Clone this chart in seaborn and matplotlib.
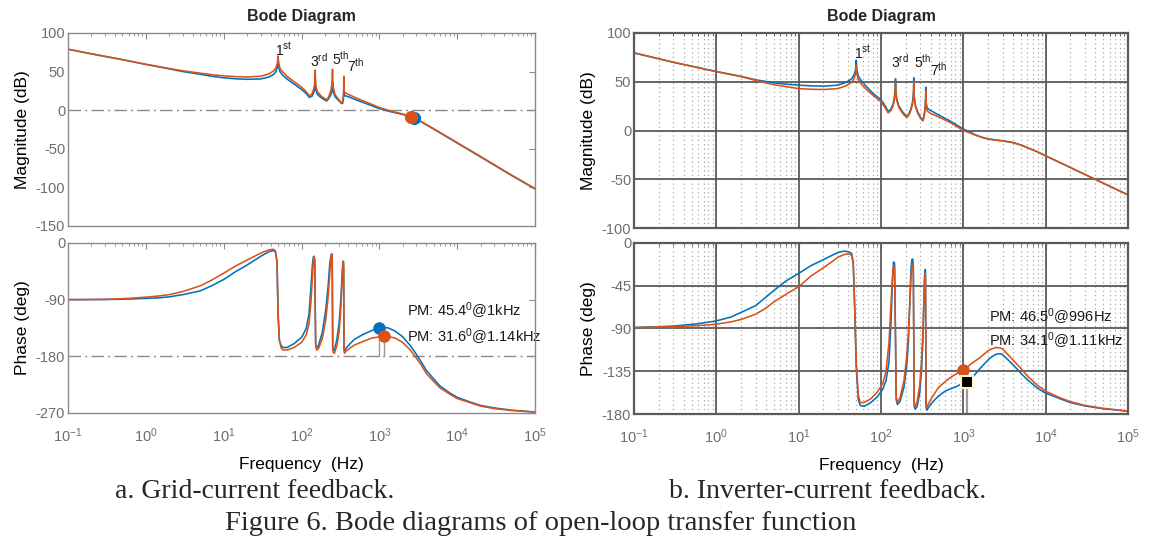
import numpy as np
import matplotlib
matplotlib.use("Agg")
import matplotlib.pyplot as plt
import seaborn as sns
from matplotlib.ticker import LogLocator

sns.set_style("white")
plt.rcParams['font.family'] = ['Liberation Sans', 'DejaVu Sans']
plt.rcParams['mathtext.fontset'] = 'custom'
plt.rcParams['mathtext.rm'] = 'Liberation Sans'
plt.rcParams['mathtext.it'] = 'Liberation Sans:italic'
plt.rcParams['mathtext.default'] = 'regular'
plt.rcParams['axes.unicode_minus'] = False

BLUE = '#0072BD'
ORANGE = '#D95319'

# ---------------- (a) grid-current feedback ----------------
LM_FREQ = [0.1, 0.2, 0.5, 1, 2, 3, 5, 7, 10, 14, 20, 30, 38,
           44, 47, 49, 50, 51, 53, 57, 65, 80, 100,
           115, 126, 136, 143, 147, 149.3, 150, 150.7, 153, 160,
           180, 200, 211, 225, 238, 245, 248.5, 250, 251.5, 255,
           270, 300, 325, 336, 344, 348, 350, 352, 356, 370,
           400, 500, 700, 1000, 1400, 2000, 2600, 3000, 3500, 5000,
           1e4, 2e4, 5e4, 1e5]
LM_ORANGE = [79, 73, 65.5, 59.5, 54, 51, 48, 46, 44.5, 43.5, 43, 44, 47,
             51, 55, 61, 70, 61, 54, 50, 44, 37, 30,
             24, 18.5, 21, 27, 33, 42, 52, 42, 31, 24,
             18, 15, 13.5, 18, 25, 33, 42, 53, 42, 30,
             20, 14, 10, 9.5, 18, 27, 44, 27, 23.5, 22,
             20.5, 16, 10, 3.5, -1, -5, -8.5, -11, -15, -24,
             -42, -60, -84, -101.5]
LM_BLUE = [79, 73, 65.5, 59.3, 53.5, 50, 46.5, 44, 42, 40.7, 40, 40.5, 43,
           46.5, 50, 56, 64, 56, 50, 45.5, 40.5, 34, 27,
           21.5, 16.5, 18, 22, 27, 34, 41, 34, 26, 20.5,
           16, 13, 12, 15.5, 20, 25, 31, 37, 31, 24,
           17.5, 12.5, 9, 8.5, 13, 18, 27, 19, 19, 18.5,
           17.5, 13.5, 8, 2, -2, -5.5, -9, -11.5, -15.5, -24.5,
           -42.5, -60.5, -84.5, -102]

LP_FREQ = [0.1, 0.3, 0.6, 1, 1.5, 2, 3, 5, 7, 10, 14, 20, 30, 38, 43,
           46, 48.5, 50, 52, 55, 58, 65, 80, 100, 115,
           125, 132, 138, 142, 145, 148, 150, 152, 156, 165,
           185, 205, 220, 232, 240, 245, 248, 250, 252, 256,
           265, 285, 305, 320, 332, 340, 345, 348, 350, 352,
           356, 380, 420, 480, 600, 800, 1000, 1140, 1300, 1600, 2000,
           2500, 3000, 3500, 4000, 5000, 6000, 8000, 1e4, 1.5e4, 2e4, 3e4, 5e4, 1e5]
LP_ORANGE = [-90, -89.5, -88, -86, -84, -82, -77, -68, -59, -48, -37, -27, -16, -11, -10,
             -12, -30, -110, -155, -167, -170, -170, -166, -158, -146,
             -128, -95, -55, -30, -22, -25, -100, -160, -170, -168,
             -152, -122, -85, -45, -22, -17, -25, -100, -168, -174,
             -175, -163, -140, -105, -65, -35, -29, -40, -100, -170,
             -175, -171, -167, -162, -157, -151, -149, -148.4, -148.6, -151, -158,
             -170, -183, -195, -207, -220, -230, -240, -247, -254, -259, -263, -266, -268.5]
LP_BLUE = [-90, -89.8, -89, -88, -87, -85.5, -82, -76, -68, -58, -46, -35, -21, -14, -12,
           -13, -30, -115, -155, -163, -166, -166, -160, -150, -136,
           -112, -72, -35, -22, -21, -28, -100, -160, -167, -163,
           -142, -106, -68, -30, -19, -18, -25, -100, -165, -171,
           -170, -153, -126, -90, -50, -32, -29, -38, -100, -168,
           -172, -166, -160, -153, -146, -139, -134.6, -134, -135, -140, -149,
           -163, -177, -190, -202, -216, -227, -238, -245, -253, -258, -262, -265.5, -268.5]

# ---------------- (b) inverter-current feedback ----------------
RM_FREQ = [0.1, 0.3, 1, 2, 3, 5, 7, 10, 14, 20, 30, 38,
           44, 47, 49, 50, 51, 53, 57, 65, 80, 100,
           113, 122, 132, 140, 145, 148.5, 150, 151.5, 155, 165,
           185, 205, 215, 228, 240, 246, 249, 250, 251, 254,
           262, 280, 300, 315, 325, 337, 345, 349, 350, 351,
           354, 365, 400, 500, 700, 1000, 1200, 1400, 1700, 2000, 2500, 3000, 4000, 5000, 6000, 8000,
           1e4, 2e4, 5e4, 1e5]
RM_BLUE = [79.6, 70, 60.5, 55.5, 52, 49, 47.5, 46.5, 45.8, 45.5, 46.5, 49.5,
           53, 57, 62, 72, 62, 56, 51.5, 46, 38, 31.5,
           25, 19.5, 22, 27, 33, 42, 53, 42, 33, 25,
           18.5, 14.5, 16, 21, 28, 35, 43, 54, 43, 34,
           26, 19, 14, 11.5, 11, 18, 27, 35, 44.5, 35,
           28, 23, 20.5, 16, 9.5, 1.5, -1.5, -4.5, -7, -8.5, -9.8, -10.5, -12.3, -14.8, -17.5, -22,
           -26, -38, -54, -66]
RM_ORANGE = [79.6, 70, 60.3, 55.3, 51.3, 47, 45, 43, 42.3, 42, 43, 46,
             49.5, 53, 58, 67, 58, 52, 48, 43, 36, 29.5,
             23, 18, 20.5, 25, 31, 39, 49.5, 39, 31, 23.5,
             17, 13.5, 15, 19.5, 26, 32, 40, 50, 40, 32,
             24.5, 17.5, 13, 10.5, 10, 16, 24, 32, 41, 32,
             25, 20, 17.5, 14, 8, 0, -2.5, -4.8, -7.2, -8.8, -10, -10.7, -12.5, -15, -17.7, -22,
             -26, -38, -54, -66]

RP_FREQ = [0.1, 0.3, 0.6, 1, 1.5, 2, 3, 4, 5, 7, 10, 14, 20, 26, 30, 36,
           41, 44, 46, 48, 50, 53, 56, 62, 75, 90,
           105, 115, 125, 132, 138, 142, 146, 150, 153, 158,
           170, 190, 205, 215, 225, 232, 238, 243, 247, 250,
           253, 260, 275, 295, 310, 322, 332, 338, 343, 347,
           350, 353, 360, 400, 450, 500, 600, 700, 850, 996, 1110, 1250, 1400, 1600, 2000,
           2200, 2500, 2800, 3000, 4000, 5000, 6000, 8000, 1e4, 1.5e4, 2e4, 3e4, 5e4, 1e5]
RP_ORANGE = [-89, -88, -87, -85.5, -83, -80.5, -75, -68.5, -62, -54, -46, -35, -26, -19, -15, -12,
             -11.5, -13, -22, -70, -125, -160, -168, -168, -164, -157,
             -148, -135, -105, -65, -35, -24, -25, -100, -162, -168,
             -163, -145, -120, -95, -60, -35, -23, -22, -30, -100,
             -168, -172, -167, -150, -125, -95, -60, -40, -32, -35,
             -100, -170, -173, -165, -158, -152, -146, -141.5, -137, -133.5, -131, -127, -124, -120.5, -113.5,
             -111.5, -110, -110.5, -111.5, -123, -132, -140, -150, -156, -163, -167, -171, -174, -177]
RP_BLUE = [-89, -87.5, -85, -82, -78, -73, -66, -57, -50, -40, -32, -24, -17.5, -12.5, -10, -8.5,
           -9.5, -11, -20, -70, -130, -165, -171, -172, -168, -162,
           -154, -145, -125, -85, -40, -20, -21, -100, -165, -170,
           -167, -152, -130, -105, -55, -25, -17, -17, -25, -100,
           -172, -175, -172, -158, -135, -105, -60, -35, -28, -30,
           -100, -173, -176, -170, -165, -161, -156, -153.5, -150.5, -147.5, -145.9, -142, -138, -132, -123,
           -120, -117, -116.5, -117.5, -128, -137, -144, -153, -158, -164, -168, -171.5, -174.5, -177]

for fr, *ys in [(LM_FREQ, LM_ORANGE, LM_BLUE), (LP_FREQ, LP_ORANGE, LP_BLUE),
                (RM_FREQ, RM_ORANGE, RM_BLUE), (RP_FREQ, RP_ORANGE, RP_BLUE)]:
    for y in ys:
        assert len(y) == len(fr), (len(fr), len(y))

HARMONIC_LABELS = ['1$^{st}$', '3$^{rd}$', '5$^{th}$', '7$^{th}$']
A_LABEL_POS = [(45, 67), (128, 53), (244, 55), (381, 46)]
B_LABEL_POS = [(47, 71), (131, 61), (255, 61), (390, 53)]

A_MAG_MARK = [(2780, -10.2, BLUE), (2550, -8.2, ORANGE)]
A_PM = [(1000, -134.6, BLUE, 'PM: 45.4$^0$@1kHz', -107.5),
        (1140, -148.4, ORANGE, 'PM: 31.6$^0$@1.14kHz', -148.8)]
B_PM_TEXT = [('PM: 46.5$^0$@996Hz', -77.6), ('PM: 34.1$^0$@1.11kHz', -102.8)]
B_PM_ORANGE = (996, -133.5)
B_PM_BLUE = (1110, -145.9)

W, H = 1149, 549
fig = plt.figure(figsize=(W / 100, H / 100), dpi=100)


def px_axes(x0, x1, y0, y1):
    return fig.add_axes([x0 / W, 1 - y1 / H, (x1 - x0) / W, (y1 - y0) / H])


def style(ax, grid, yticks, ylim):
    ax.set_xscale('log')
    ax.set_xlim(0.1, 1e5)
    ax.set_ylim(*ylim)
    ax.set_yticks(yticks)
    ax.xaxis.set_major_locator(LogLocator(base=10, numticks=12))
    ax.xaxis.set_minor_locator(LogLocator(base=10, subs=np.arange(2, 10), numticks=100))
    sc = '#5a5a5a' if grid else '#8a8a8a'
    ax.tick_params(which='both', direction='in', top=True, right=True, color=sc)
    ax.tick_params(which='major', length=4, labelsize=10.5, labelcolor='#6e6e6e', pad=2)
    ax.tick_params(axis='x', which='major', pad=10)
    ax.tick_params(which='minor', length=2.3)
    for s in ax.spines.values():
        s.set_color(sc)
        s.set_linewidth(1.6 if grid else 1.0)
        s.set_zorder(5)
    if grid:
        ax.grid(which='major', color='#5a5a5a', lw=1.3, ls='-')
        ax.grid(which='minor', axis='x', color='#a8a8a8', lw=0.9, ls=(0, (1, 2.5)))
        ax.set_axisbelow(True)


def curves(ax, f, b, o):
    sns.lineplot(x=f, y=b, ax=ax, color=BLUE, lw=1.15, estimator=None, sort=False, zorder=3)
    sns.lineplot(x=f, y=o, ax=ax, color=ORANGE, lw=1.15, estimator=None, sort=False, zorder=3)


DASHDOT = (0, (9, 3, 1.5, 3))

# ---- (a) magnitude ----
ax1 = px_axes(68, 535, 33, 226)
style(ax1, False, [-150, -100, -50, 0, 50, 100], (-150, 100))
ax1.axhline(0, color='#8a8a8a', lw=1.0, ls=DASHDOT, zorder=2)
curves(ax1, LM_FREQ, LM_BLUE, LM_ORANGE)
for fx, mv, c in A_MAG_MARK:
    ax1.plot([fx], [mv], 'o', ms=8.5, color=c, zorder=4)
for (fx, dv), lab in zip(A_LABEL_POS, HARMONIC_LABELS):
    ax1.text(fx, dv, lab, fontsize=10, ha='left', va='bottom', color='#1a1a1a')
ax1.tick_params(labelbottom=False)
ax1.set_ylabel('Magnitude (dB)', fontsize=12.5, color='black', labelpad=4)
ax1.set_title('Bode Diagram', fontweight='bold', fontsize=11.5, pad=9)

# ---- (a) phase ----
ax2 = px_axes(68, 535, 243, 413)
style(ax2, False, [-270, -180, -90, 0], (-270, 0))
ax2.axhline(-180, color='#8a8a8a', lw=1.0, ls=DASHDOT, zorder=2)
curves(ax2, LP_FREQ, LP_BLUE, LP_ORANGE)
for fx, pv, c, txt, ty in A_PM:
    ax2.plot([fx, fx], [pv, -180], color='#9a9a9a', lw=1.0, zorder=3)
    ax2.plot([fx], [pv], 'o', ms=8, color=c, zorder=4)
    ax2.text(2250, ty, txt, fontsize=10.5, ha='left', va='center', color='#1a1a1a')
ax2.set_ylabel('Phase (deg)', fontsize=12.5, color='black', labelpad=4)
ax2.set_xlabel('Frequency  (Hz)', fontsize=12.5, color='black', labelpad=8)

# ---- (b) magnitude ----
ax3 = px_axes(634, 1128, 33, 228)
style(ax3, True, [-100, -50, 0, 50, 100], (-100, 100))
curves(ax3, RM_FREQ, RM_BLUE, RM_ORANGE)
for (fx, dv), lab in zip(B_LABEL_POS, HARMONIC_LABELS):
    ax3.text(fx, dv, lab, fontsize=10, ha='left', va='bottom', color='#1a1a1a')
ax3.tick_params(labelbottom=False)
ax3.set_ylabel('Magnitude (dB)', fontsize=12.5, color='black', labelpad=4)
ax3.set_title('Bode Diagram', fontweight='bold', fontsize=11.5, pad=9)

# ---- (b) phase ----
ax4 = px_axes(634, 1128, 243, 414)
style(ax4, True, [-180, -135, -90, -45, 0], (-180, 0))
curves(ax4, RP_FREQ, RP_BLUE, RP_ORANGE)
ax4.plot([B_PM_BLUE[0]] * 2, [B_PM_BLUE[1], -180], color='#9a9a9a', lw=1.6, zorder=3)
ax4.plot([B_PM_ORANGE[0]], [B_PM_ORANGE[1]], 'o', ms=8, color=ORANGE, zorder=4)
ax4.plot([B_PM_BLUE[0]], [B_PM_BLUE[1]], 's', ms=8, color='black',
         markeredgecolor='#fff8c8', markeredgewidth=1.5, zorder=4)
for txt, ty in B_PM_TEXT:
    ax4.text(2030, ty, txt, fontsize=10.5, ha='left', va='center', color='#1a1a1a')
ax4.set_ylabel('Phase (deg)', fontsize=12.5, color='black', labelpad=4)
ax4.set_xlabel('Frequency  (Hz)', fontsize=12.5, color='black', labelpad=8)

# ---- captions ----
serif = ['Liberation Serif', 'DejaVu Serif']
fig.text(255 / W, 1 - 492 / H, 'a. Grid-current feedback.', family=serif,
         fontsize=20, ha='center', va='center')
fig.text(828 / W, 1 - 492 / H, 'b. Inverter-current feedback.', family=serif,
         fontsize=20, ha='center', va='center')
fig.text(541 / W, 1 - 523 / H, 'Figure 6. Bode diagrams of open-loop transfer function',
         family=serif, fontsize=20.5, ha='center', va='center')

fig.savefig('out.png', dpi=100)
